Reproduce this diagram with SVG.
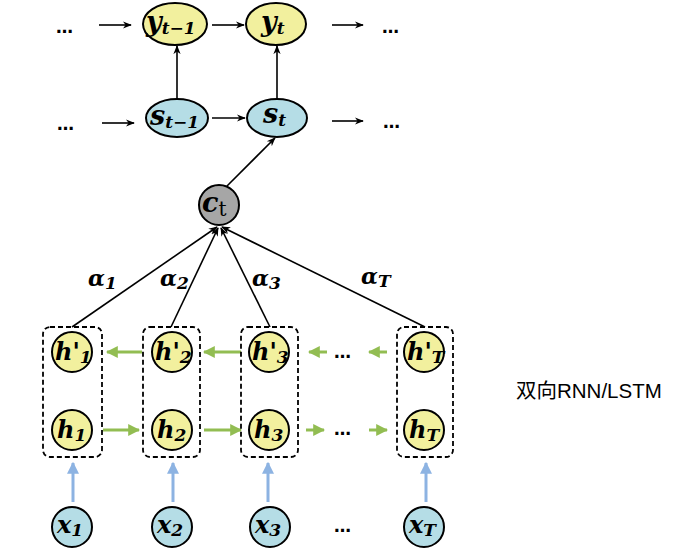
<svg xmlns="http://www.w3.org/2000/svg" width="690" height="553" viewBox="0 0 690 553">
<defs>
<marker id="ab" viewBox="0 0 10 10" refX="9" refY="5" markerWidth="9" markerHeight="9" markerUnits="userSpaceOnUse" orient="auto"><path d="M0,1 L10,5 L0,9 L3,5 Z" fill="#000"/></marker>
<marker id="ag" viewBox="0 0 10 10" refX="9" refY="5" markerWidth="12" markerHeight="12" markerUnits="userSpaceOnUse" orient="auto"><path d="M0,0 L10,5 L0,10 Z" fill="#92bd52"/></marker>
<marker id="al" viewBox="0 0 10 10" refX="9" refY="5" markerWidth="12" markerHeight="12" markerUnits="userSpaceOnUse" orient="auto"><path d="M0,0 L10,5 L0,10 Z" fill="#8db3e2"/></marker>
</defs>
<style>
.y{fill:#f2f09e;stroke:#000;stroke-width:2}
.b{fill:#b5dde6;stroke:#000;stroke-width:2}
.g{fill:#a6a6a6;stroke:#000;stroke-width:2}
.box{fill:none;stroke:#000;stroke-width:1.8;stroke-dasharray:5,3}
.m{font-family:"DejaVu Serif","Liberation Serif",serif;font-weight:bold;font-style:italic;fill:#000}
.sub{font-size:17px}
.k{stroke:#000;stroke-width:1.6;fill:none}
.gr{stroke:#92bd52;stroke-width:3;fill:none}
.bl{stroke:#8db3e2;stroke-width:3;fill:none}
.dots{font-family:"DejaVu Sans",sans-serif;font-weight:bold;font-size:17px;fill:#000}
</style>
<g id="connectors">
<line class="k" x1="99" y1="25" x2="131" y2="25" marker-end="url(#ab)"/>
<line class="k" x1="212" y1="25" x2="244" y2="25" marker-end="url(#ab)"/>
<line class="k" x1="332" y1="25" x2="363" y2="25" marker-end="url(#ab)"/>
<line class="k" x1="102" y1="123" x2="134" y2="123" marker-end="url(#ab)"/>
<line class="k" x1="212" y1="118" x2="245" y2="118" marker-end="url(#ab)"/>
<line class="k" x1="332" y1="121" x2="363" y2="121" marker-end="url(#ab)"/>
<line class="k" x1="177" y1="99" x2="177" y2="46" marker-end="url(#ab)"/>
<line class="k" x1="277" y1="99" x2="277" y2="46" marker-end="url(#ab)"/>
<line class="k" x1="227" y1="186" x2="275" y2="138" marker-end="url(#ab)"/>
<line class="k" x1="72" y1="327" x2="217" y2="227" marker-end="url(#ab)"/>
<line class="k" x1="171" y1="327" x2="218" y2="228" marker-end="url(#ab)"/>
<line class="k" x1="270" y1="327" x2="221" y2="228" marker-end="url(#ab)"/>
<line class="k" x1="425" y1="327" x2="222" y2="227" marker-end="url(#ab)"/>
<line class="gr" x1="142" y1="352" x2="107" y2="352" marker-end="url(#ag)"/>
<line class="gr" x1="241" y1="352" x2="204" y2="352" marker-end="url(#ag)"/>
<line class="gr" x1="327" y1="352" x2="309" y2="352" marker-end="url(#ag)"/>
<line class="gr" x1="387" y1="352" x2="369" y2="352" marker-end="url(#ag)"/>
<line class="gr" x1="103" y1="430" x2="139" y2="430" marker-end="url(#ag)"/>
<line class="gr" x1="204" y1="430" x2="241" y2="430" marker-end="url(#ag)"/>
<line class="gr" x1="306" y1="430" x2="324" y2="430" marker-end="url(#ag)"/>
<line class="gr" x1="369" y1="430" x2="387" y2="430" marker-end="url(#ag)"/>
<line class="bl" x1="73" y1="502" x2="73" y2="463" marker-end="url(#al)"/>
<line class="bl" x1="173" y1="502" x2="173" y2="463" marker-end="url(#al)"/>
<line class="bl" x1="268" y1="502" x2="268" y2="463" marker-end="url(#al)"/>
<line class="bl" x1="426" y1="502" x2="426" y2="463" marker-end="url(#al)"/>
</g>
<g id="dots">
<text class="dots" x="56" y="33">…</text>
<text class="dots" x="382" y="33">…</text>
<text class="dots" x="57" y="130">…</text>
<text class="dots" x="383" y="128">…</text>
<text class="dots" x="334" y="358">…</text>
<text class="dots" x="334" y="435">…</text>
<text class="dots" x="334" y="532">…</text>
</g>
<g id="y_t-1"><ellipse class="y" cx="175" cy="24" rx="32" ry="21"/><text class="m" x="146" y="31" font-size="27">y<tspan class="sub" dy="3">t−1</tspan></text></g>
<g id="y_t"><ellipse class="y" cx="276" cy="24" rx="30" ry="21"/><text class="m" x="261" y="31" font-size="27">y<tspan class="sub" dy="3">t</tspan></text></g>
<g id="s_t-1"><ellipse class="b" cx="177" cy="118" rx="31" ry="19"/><text class="m" x="150" y="125" font-size="27">s<tspan class="sub" dy="3">t−1</tspan></text></g>
<g id="s_t"><ellipse class="b" cx="277" cy="118" rx="30" ry="19"/><text class="m" x="263" y="123" font-size="27">s<tspan class="sub" dy="3">t</tspan></text></g>
<g id="c_t"><circle class="g" cx="219" cy="205" r="20"/><text class="m" x="202" y="212" font-size="27">c<tspan font-style="normal" font-weight="normal" font-family="DejaVu Serif,serif" font-size="20" dy="4">t</tspan></text></g>
<g id="alphas">
<text class="m" x="88" y="286" font-size="22">α<tspan class="sub" dy="3">1</tspan></text>
<text class="m" x="160" y="286" font-size="22">α<tspan class="sub" dy="3">2</tspan></text>
<text class="m" x="252" y="286" font-size="22">α<tspan class="sub" dy="3">3</tspan></text>
<text class="m" x="361" y="284" font-size="22">α<tspan class="sub" dy="3">T</tspan></text>
</g>
<g id="box1"><rect class="box" x="43" y="327" width="59" height="130" rx="7"/></g>
<g id="box2"><rect class="box" x="143" y="327" width="57" height="130" rx="7"/></g>
<g id="box3"><rect class="box" x="241" y="327" width="57" height="130" rx="7"/></g>
<g id="boxT"><rect class="box" x="397" y="327" width="56" height="130" rx="7"/></g>
<g id="hp1"><circle class="y" cx="72" cy="352" r="20"/><text class="m" x="55" y="360" font-size="24">h'<tspan class="sub" dy="3">1</tspan></text></g>
<g id="hp2"><circle class="y" cx="172" cy="352" r="20"/><text class="m" x="155" y="360" font-size="24">h'<tspan class="sub" dy="3">2</tspan></text></g>
<g id="hp3"><circle class="y" cx="269" cy="352" r="20"/><text class="m" x="252" y="360" font-size="24">h'<tspan class="sub" dy="3">3</tspan></text></g>
<g id="hpT"><circle class="y" cx="424" cy="352" r="20"/><text class="m" x="407" y="360" font-size="24">h'<tspan class="sub" dy="3">T</tspan></text></g>
<g id="h1"><circle class="y" cx="72" cy="430" r="20"/><text class="m" x="57" y="438" font-size="24">h<tspan class="sub" dy="3">1</tspan></text></g>
<g id="h2"><circle class="y" cx="172" cy="430" r="20"/><text class="m" x="157" y="438" font-size="24">h<tspan class="sub" dy="3">2</tspan></text></g>
<g id="h3"><circle class="y" cx="269" cy="430" r="20"/><text class="m" x="254" y="438" font-size="24">h<tspan class="sub" dy="3">3</tspan></text></g>
<g id="hT"><circle class="y" cx="424" cy="430" r="20"/><text class="m" x="409" y="438" font-size="24">h<tspan class="sub" dy="3">T</tspan></text></g>
<g id="x1"><circle class="b" cx="72" cy="527" r="20"/><text class="m" x="57" y="533" font-size="24">x<tspan class="sub" dy="3">1</tspan></text></g>
<g id="x2"><circle class="b" cx="172" cy="527" r="20"/><text class="m" x="157" y="533" font-size="24">x<tspan class="sub" dy="3">2</tspan></text></g>
<g id="x3"><circle class="b" cx="270" cy="527" r="20"/><text class="m" x="255" y="533" font-size="24">x<tspan class="sub" dy="3">3</tspan></text></g>
<g id="xT"><circle class="b" cx="424" cy="527" r="20"/><text class="m" x="409" y="533" font-size="24">x<tspan class="sub" dy="3">T</tspan></text></g>
<g id="label"><text x="516" y="398" font-family="'Liberation Sans','Noto Sans CJK SC',sans-serif" font-size="20.5" fill="#000">双向RNN/LSTM</text></g>
</svg>
